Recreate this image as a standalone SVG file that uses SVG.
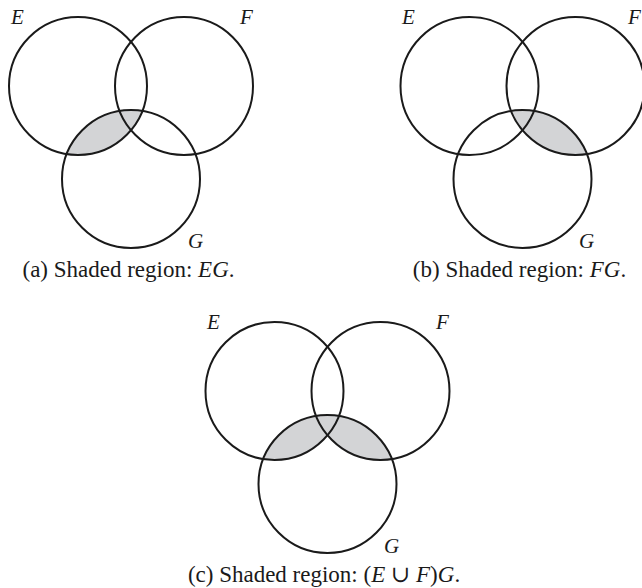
<svg xmlns="http://www.w3.org/2000/svg" width="642" height="588" viewBox="0 0 642 588">
  <style>
    .ring { fill: none; stroke: #1a1a1a; stroke-width: 2; }
    .shade { fill: #d3d4d6; stroke: none; }
    .lbl { font-family: "Liberation Serif", "Times New Roman", "DejaVu Serif", serif; font-size: 21px; font-style: italic; fill: #1a1a1a; }
    .cap { font-family: "Liberation Serif", "Times New Roman", "DejaVu Serif", serif; font-size: 23px; fill: #1a1a1a; text-anchor: middle; }
    .it { font-style: italic; }
  </style>
  <defs>
    <clipPath id="clipEa"><circle cx="78" cy="86" r="69"/></clipPath>
    <clipPath id="clipFb"><circle cx="575.5" cy="86" r="69"/></clipPath>
    <clipPath id="clipEc"><circle cx="274.5" cy="391" r="69"/></clipPath>
    <clipPath id="clipFc"><circle cx="380.5" cy="391" r="69"/></clipPath>
  </defs>

  <!-- Diagram (a) -->
  <g id="diagram-a">
    <g id="shade-a">
      <circle class="shade" cx="131" cy="179" r="69" clip-path="url(#clipEa)"/>
    </g>
    <g id="a-E"><circle class="ring" cx="78" cy="86" r="69"/><text class="lbl" x="11" y="24">E</text></g>
    <g id="a-F"><circle class="ring" cx="184" cy="86" r="69"/><text class="lbl" x="240" y="24">F</text></g>
    <g id="a-G"><circle class="ring" cx="131" cy="179" r="69"/><text class="lbl" x="188" y="248">G</text></g>
    <text class="cap" x="128.5" y="277">(a) Shaded region: <tspan class="it">EG</tspan>.</text>
  </g>

  <!-- Diagram (b) -->
  <g id="diagram-b">
    <g id="shade-b">
      <circle class="shade" cx="522.5" cy="179" r="69" clip-path="url(#clipFb)"/>
    </g>
    <g id="b-E"><circle class="ring" cx="469.5" cy="86" r="69"/><text class="lbl" x="402" y="24">E</text></g>
    <g id="b-F"><circle class="ring" cx="575.5" cy="86" r="69"/><text class="lbl" x="628" y="24">F</text></g>
    <g id="b-G"><circle class="ring" cx="522.5" cy="179" r="69"/><text class="lbl" x="579" y="248">G</text></g>
    <text class="cap" x="519.5" y="277">(b) Shaded region: <tspan class="it">FG</tspan>.</text>
  </g>

  <!-- Diagram (c) -->
  <g id="diagram-c">
    <g id="shade-c">
      <circle class="shade" cx="327.5" cy="484" r="69" clip-path="url(#clipEc)"/>
      <circle class="shade" cx="327.5" cy="484" r="69" clip-path="url(#clipFc)"/>
    </g>
    <g id="c-E"><circle class="ring" cx="274.5" cy="391" r="69"/><text class="lbl" x="207" y="329">E</text></g>
    <g id="c-F"><circle class="ring" cx="380.5" cy="391" r="69"/><text class="lbl" x="436" y="329">F</text></g>
    <g id="c-G"><circle class="ring" cx="327.5" cy="484" r="69"/><text class="lbl" x="384" y="553">G</text></g>
    <text class="cap" x="324" y="582">(c) Shaded region: (<tspan class="it">E</tspan> ∪ <tspan class="it">F</tspan>)<tspan class="it">G</tspan>.</text>
  </g>
</svg>
